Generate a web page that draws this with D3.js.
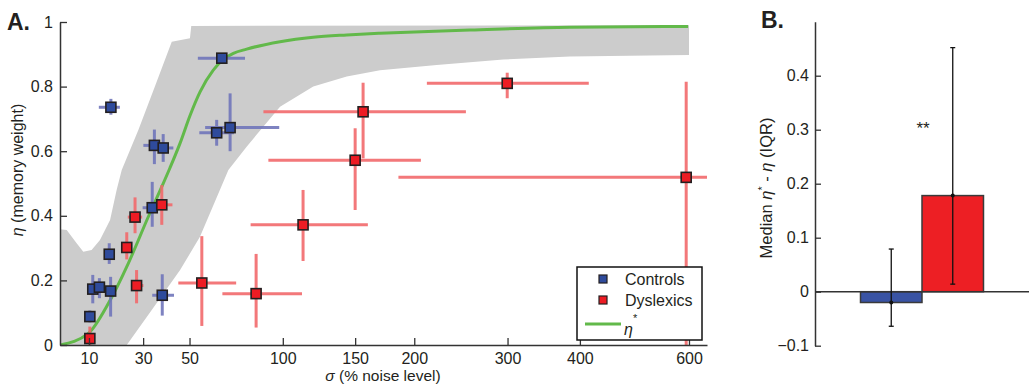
<!DOCTYPE html>
<html>
<head>
<meta charset="utf-8">
<script src="https://cdn.jsdelivr.net/npm/d3@7"></script>
<style>
  body { margin: 0; background: #fff; }
  svg { font-family: "Liberation Sans", Arial, Helvetica, sans-serif; }
</style>
</head>
<body>
<div id="chart"></div>
<script>
'use strict';

// ---- panel A data ----
const xTicks = [10, 30, 50, 100, 150, 200, 300, 400, 600];
const yTicks = [0, 0.2, 0.4, 0.6, 0.8, 1];

const controlSigma   = [17.7, 65.7, 63.1, 70.0, 34.6, 38.3, 33.7, 17.1, 11.3, 13.6, 17.6, 37.9, 10.3];
const controlSigmaLo = [13.4, 53.9, 54.6, 57.4, 30.1, 35.0, 29.8, 16.0, 9.8, 12.0, 16.0, 33.7, 9.6];
const controlSigmaHi = [21.0, 78.0, 72.0, 97.8, 39.0, 42.7, 38.0, 18.5, 13.0, 15.5, 19.5, 43.0, 11.0];
const controlEta     = [0.736, 0.888, 0.657, 0.673, 0.618, 0.610, 0.425, 0.281, 0.173, 0.179, 0.167, 0.154, 0.088];
const controlEtaLo   = [0.713, 0.882, 0.617, 0.600, 0.560, 0.567, 0.366, 0.251, 0.129, 0.145, 0.088, 0.091, 0.070];
const controlEtaHi   = [0.762, 0.894, 0.697, 0.779, 0.667, 0.653, 0.505, 0.315, 0.217, 0.207, 0.211, 0.219, 0.107];

const dysSigma   = [10.3, 27.4, 23.6, 26.8, 37.7, 55.8, 84.2, 112.9, 150.0, 156.2, 299.6, 594];
const dysSigmaLo = [9.8, 25.2, 22.3, 24.0, 35.5, 44.9, 66.0, 81.1, 91.3, 88.4, 211.9, 185.7];
const dysSigmaHi = [10.8, 30.1, 25.6, 29.6, 42.3, 73.2, 112.2, 160.0, 206.2, 251.8, 413.9, 700];
const dysEta     = [0.020, 0.184, 0.302, 0.396, 0.434, 0.192, 0.159, 0.372, 0.572, 0.722, 0.810, 0.519];
const dysEtaLo   = [0.000, 0.129, 0.265, 0.346, 0.372, 0.059, 0.054, 0.260, 0.418, 0.578, 0.764, 0.000];
const dysEtaHi   = [0.057, 0.232, 0.349, 0.457, 0.495, 0.337, 0.282, 0.480, 0.671, 0.812, 0.843, 0.815];

// grey band (upper edge left->right, lower edge right->left)
const bandUpperSigma = [0.6, 2.7, 5.9, 8.1, 10.9, 13.8, 17.4, 19.8, 21.7, 28.1, 34.8, 42.0, 50.2, 50.8, 600];
const bandUpperEta   = [0.358, 0.356, 0.315, 0.289, 0.294, 0.325, 0.387, 0.480, 0.542, 0.666, 0.800, 0.939, 0.950, 0.988, 0.990];
const bandLowerSigma = [600, 384.9, 294.8, 221.5, 169.9, 143.6, 119.7, 98.3, 78.9, 69.1, 54.9, 45.7, 33.5, 23.6, 0.6];
const bandLowerEta   = [0.898, 0.893, 0.884, 0.867, 0.851, 0.831, 0.800, 0.738, 0.614, 0.542, 0.335, 0.232, 0.108, 0, 0];

// eta* curve
const starSigma = [0.6, 9.8, 16.8, 24.2, 32.1, 37.7, 41.2, 45.7, 50.2, 54.9, 61.4, 66.5, 71.7, 78.9, 98.3, 119.7, 143.6, 169.9, 256.2, 384.9, 598];
const starEta   = [0, 0.036, 0.129, 0.253, 0.397, 0.490, 0.548, 0.625, 0.710, 0.783, 0.851, 0.884, 0.903, 0.916, 0.939, 0.953, 0.960, 0.965, 0.975, 0.984, 0.986];

// ---- panel B data ----
const groups = ["Controls", "Dyslexics"];
const medianDiff = [-0.020, 0.178];
const iqrLo = [-0.064, 0.014];
const iqrHi = [0.079, 0.452];
const bTicks = [-0.1, 0, 0.1, 0.2, 0.3, 0.4];

const blue = "#2f4b9c", blueBar = "#7176bb";
const red = "#ed1c24", redBar = "#f26a6c";
const green = "#62b94a";
const ink = "#231f20";

var svg = d3.select("#chart").append("svg")
    .attr("width", 1029)
    .attr("height", 387);

// =================== panel A ===================
var x = d3.scaleSymlog()
    .constant(100)
    .domain([0.6, 640])
    .range([60, 707]);

var y = d3.scaleLinear()
    .domain([0, 1])
    .range([345, 22]);

svg.append("clipPath").attr("id", "clipA")
    .append("rect")
    .attr("x", 60).attr("y", 0)
    .attr("width", 647).attr("height", 345);

var plotA = svg.append("g").attr("clip-path", "url(#clipA)");

var band = bandUpperSigma.map((s, i) => [s, bandUpperEta[i]])
    .concat(bandLowerSigma.map((s, i) => [s, bandLowerEta[i]]));

plotA.append("path")
    .datum(band)
    .attr("fill", "#cccccc")
    .attr("d", d3.line().x(d => x(d[0])).y(d => y(d[1])));

plotA.append("path")
    .datum(starSigma.map((s, i) => [s, starEta[i]]))
    .attr("fill", "none")
    .attr("stroke", green)
    .attr("stroke-width", 3)
    .attr("d", d3.line().curve(d3.curveMonotoneX).x(d => x(d[0])).y(d => y(d[1])));

function errorBars(sig, sLo, sHi, eta, eLo, eHi, col) {
    var g = plotA.append("g")
        .attr("stroke", col)
        .attr("stroke-width", 3)
        .attr("opacity", 0.9);
    sig.forEach(function (s, i) {
        g.append("line")
            .attr("x1", x(sLo[i])).attr("x2", x(sHi[i]))
            .attr("y1", y(eta[i])).attr("y2", y(eta[i]));
        g.append("line")
            .attr("x1", x(s)).attr("x2", x(s))
            .attr("y1", y(eLo[i])).attr("y2", y(eHi[i]));
    });
}

function markers(sig, eta, col) {
    plotA.append("g")
        .selectAll("rect")
        .data(sig.map((s, i) => [s, eta[i]]))
        .join("rect")
        .attr("x", d => x(d[0]) - 5)
        .attr("y", d => y(d[1]) - 5)
        .attr("width", 10)
        .attr("height", 10)
        .attr("fill", col)
        .attr("stroke", ink)
        .attr("stroke-width", 1.6);
}

errorBars(controlSigma, controlSigmaLo, controlSigmaHi, controlEta, controlEtaLo, controlEtaHi, blueBar);
errorBars(dysSigma, dysSigmaLo, dysSigmaHi, dysEta, dysEtaLo, dysEtaHi, redBar);
markers(controlSigma, controlEta, blue);
markers(dysSigma, dysEta, red);

// axes A
var xAxis = d3.axisBottom(x)
    .tickValues(xTicks)
    .tickFormat(d => String(d))
    .tickSize(-7)
    .tickSizeOuter(0)
    .tickPadding(8);

var yAxis = d3.axisLeft(y)
    .tickValues(yTicks)
    .tickFormat(d => String(d))
    .tickSize(-7)
    .tickSizeOuter(0)
    .tickPadding(7);

function styleAxis(g) {
    g.select(".domain").attr("stroke", "#333").attr("stroke-width", 1.5);
    g.selectAll(".tick line").attr("stroke", "#333").attr("stroke-width", 1.3);
    g.selectAll(".tick text").attr("fill", ink).style("font-size", "16px");
}

svg.append("g")
    .attr("transform", "translate(0,345)")
    .call(xAxis)
    .call(styleAxis);

svg.append("g")
    .attr("transform", "translate(60,0)")
    .call(yAxis)
    .call(styleAxis);

svg.append("text")
    .attr("x", 383).attr("y", 381)
    .attr("text-anchor", "middle")
    .attr("fill", ink)
    .style("font-size", "15.5px")
    .call(t => {
        t.append("tspan").style("font-style", "italic").text("σ");
        t.append("tspan").text(" (% noise level)");
    });

svg.append("text")
    .attr("transform", "translate(23,170) rotate(-90)")
    .attr("text-anchor", "middle")
    .attr("fill", ink)
    .style("font-size", "16px")
    .call(t => {
        t.append("tspan").style("font-style", "italic").text("η");
        t.append("tspan").text(" (memory weight)");
    });

svg.append("text")
    .attr("x", 7).attr("y", 30)
    .attr("fill", ink)
    .style("font-size", "23px")
    .style("font-weight", "bold")
    .text("A.");

// legend
var leg = svg.append("g").attr("transform", "translate(577,267)");
leg.append("rect")
    .attr("width", 125).attr("height", 73)
    .attr("fill", "#fff")
    .attr("stroke", "#111")
    .attr("stroke-width", 1.5);

[["Controls", blue], ["Dyslexics", red]].forEach(function (d, i) {
    leg.append("rect")
        .attr("x", 22).attr("y", 8 + i * 21)
        .attr("width", 8).attr("height", 8)
        .attr("fill", d[1])
        .attr("stroke", ink)
        .attr("stroke-width", 1.2);
    leg.append("text")
        .attr("x", 48).attr("y", 18 + i * 21)
        .attr("fill", ink)
        .style("font-size", "16px")
        .text(d[0]);
});
leg.append("line")
    .attr("x1", 8).attr("x2", 44)
    .attr("y1", 57).attr("y2", 57)
    .attr("stroke", green)
    .attr("stroke-width", 3);
leg.append("text")
    .attr("x", 47).attr("y", 68)
    .attr("fill", ink)
    .style("font-size", "16px")
    .call(t => {
        t.append("tspan").style("font-style", "italic").text("η");
        t.append("tspan").attr("dy", -13).style("font-size", "11px").text("*");
    });

// =================== panel B ===================
var xb = d3.scaleBand()
    .domain(groups)
    .range([815, 1029])
    .paddingInner(0)
    .paddingOuter(0.74);

var yb = d3.scaleLinear()
    .domain([-0.1, 0.5])
    .range([345.7, 21.7]);

var bars = svg.append("g");
bars.selectAll("rect")
    .data(groups)
    .join("rect")
    .attr("x", d => xb(d))
    .attr("width", xb.bandwidth())
    .attr("y", (d, i) => yb(Math.max(0, medianDiff[i])))
    .attr("height", (d, i) => Math.abs(yb(medianDiff[i]) - yb(0)))
    .attr("fill", (d, i) => i === 0 ? "#3953a4" : "#ed1f24")
    .attr("stroke", "#3a3a3a")
    .attr("stroke-width", 1.5);

// zero line
svg.append("line")
    .attr("x1", 815).attr("x2", 1029)
    .attr("y1", yb(0)).attr("y2", yb(0))
    .attr("stroke", "#333")
    .attr("stroke-width", 1.5);

var eb = svg.append("g").attr("stroke", "#111").attr("stroke-width", 1.3);
groups.forEach(function (g, i) {
    var cx = xb(g) + xb.bandwidth() / 2;
    eb.append("line")
        .attr("x1", cx).attr("x2", cx)
        .attr("y1", yb(iqrLo[i])).attr("y2", yb(iqrHi[i]));
    [iqrLo[i], iqrHi[i]].forEach(function (v) {
        eb.append("line")
            .attr("x1", cx - 2.5).attr("x2", cx + 2.5)
            .attr("y1", yb(v)).attr("y2", yb(v));
    });
    svg.append("circle")
        .attr("cx", cx).attr("cy", yb(medianDiff[i]))
        .attr("r", 2)
        .attr("fill", "#111");
});

var ybAxis = d3.axisLeft(yb)
    .tickValues(bTicks)
    .tickFormat(d => d === 0 ? "0" : d3.format(".1f")(d))
    .tickSize(-6)
    .tickSizeOuter(0)
    .tickPadding(6);

svg.append("g")
    .attr("transform", "translate(815,0)")
    .call(ybAxis)
    .call(styleAxis);

svg.append("text")
    .attr("x", xb("Dyslexics") + 1).attr("y", 134)
    .attr("text-anchor", "middle")
    .attr("fill", ink)
    .style("font-size", "17px")
    .text("**");

svg.append("text")
    .attr("transform", "translate(772,188) rotate(-90)")
    .attr("text-anchor", "middle")
    .attr("fill", ink)
    .style("font-size", "16.5px")
    .call(t => {
        t.append("tspan").text("Median ");
        t.append("tspan").style("font-style", "italic").text("η");
        t.append("tspan").attr("dy", -6).style("font-size", "11px").text("*");
        t.append("tspan").attr("dy", 6).text(" - ");
        t.append("tspan").style("font-style", "italic").text("η");
        t.append("tspan").text(" (IQR)");
    });

svg.append("text")
    .attr("x", 761).attr("y", 28)
    .attr("fill", ink)
    .style("font-size", "23px")
    .style("font-weight", "bold")
    .text("B.")
</script>
</body>
</html>
